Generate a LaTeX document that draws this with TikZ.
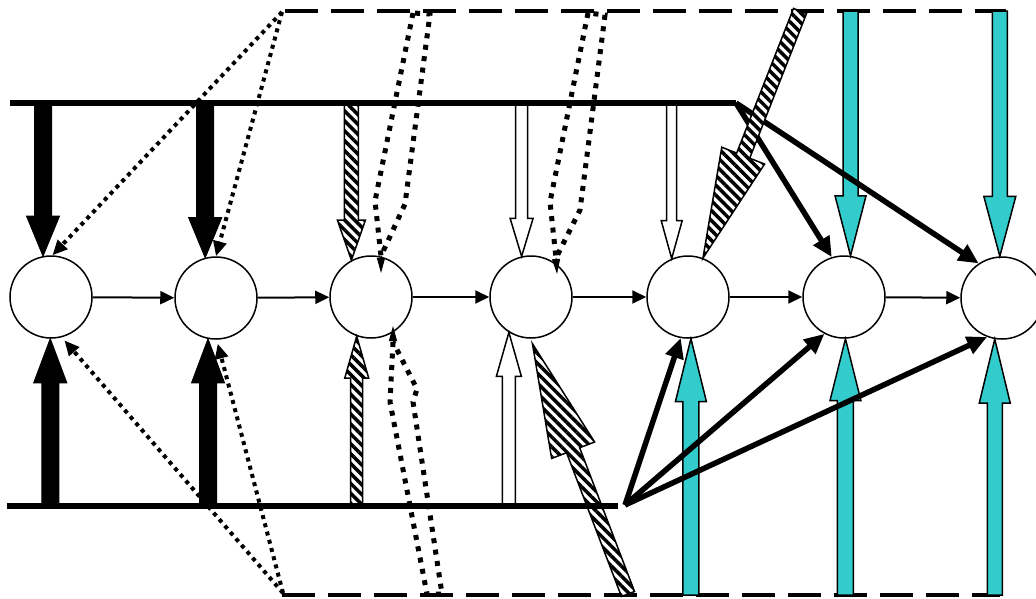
\documentclass[tikz,border=0pt]{standalone}
\usetikzlibrary{calc,arrows.meta,patterns.meta}

\definecolor{tealfill}{RGB}{51,204,204}

% Block arrow: [style]{start}{tip}{half shaft width}{half head width}{head length}
\newcommand{\fatarrow}[6][]{%
  \coordinate (faS) at (#2);
  \coordinate (faT) at (#3);
  \coordinate (faH) at ($(faT)!#6!(faS)$);
  \path[#1] ($(faS)!#4!90:(faT)$) -- ($(faH)!#4!90:(faT)$) -- ($(faH)!#5!90:(faT)$)
    -- (faT) -- ($(faH)!#5!-90:(faT)$) -- ($(faH)!#4!-90:(faT)$) -- ($(faS)!#4!-90:(faT)$) -- cycle;
}

\tikzset{
  state/.style={circle, draw, line width=1.5pt, minimum size=82pt, inner sep=0pt},
  flow/.style={line width=2pt, -{Triangle[length=14pt,width=13pt]}},
  fan/.style={line width=5.5pt, -{Triangle[length=20pt,width=18pt]}},
  rail/.style={line width=5.5pt},
  frame/.style={line width=4pt, dash pattern=on 33pt off 13pt},
  dotline/.style={line width=4pt, dash pattern=on 4pt off 4.5pt, -{Triangle[length=15pt,width=13pt]}},
  tube/.style={line width=5pt, dash pattern=on 5pt off 6.5pt, line join=miter},
  tubetip/.style={line width=1pt, -{Triangle[length=15pt,width=8pt]}},
  solidarrow/.style={fill=black, draw=black, line width=1pt},
  openarrow/.style={fill=white, draw=black, line width=1.5pt},
  hatcharrow/.style={preaction={fill=white}, pattern={Lines[angle=-45,distance=7pt,line width=3.5pt]}, draw=black, line width=1.5pt},
  cyanarrow/.style={fill=tealfill, draw=black, line width=1.5pt},
}

\begin{document}
\begin{tikzpicture}[x=1pt, y=-1pt]
\useasboundingbox (0,0) rectangle (1036,598);

% states
\node[state] (c1) at (51,297) {};
\node[state] (c2) at (216,298) {};
\node[state] (c3) at (371,297) {};
\node[state] (c4) at (531,297) {};
\node[state] (c5) at (688,297) {};
\node[state] (c6) at (844,297) {};
\node[state] (c7) at (1002,298) {};

% rail and frame points
\coordinate (TL) at (10,103);
\coordinate (TR) at (736,103);
\coordinate (BL) at (7,506);
\coordinate (BR) at (618,506);
\coordinate (F2) at (625,505);
\coordinate (DTL) at (285,11);
\coordinate (DTR) at (1006,11);
\coordinate (DBL) at (282,595);
\coordinate (DBR) at (1000,595);
\coordinate (KT) at (282,12);
\coordinate (KB) at (283,593);

% dashed frame
\draw[frame] (DTL) -- (DTR);
\draw[frame] (DBL) -- (DBR);

% chain
\draw[flow] (c1) -- (c2);
\draw[flow] (c2) -- (c3);
\draw[flow] (c3) -- (c4);
\draw[flow] (c4) -- (c5);
\draw[flow] (c5) -- (c6);
\draw[flow] (c6) -- (c7);

% dotted links from the frame corners
\draw[dotline] (KT) -- (c1.88);
\draw[dotline] (KT) -- (c2.90);
\draw[dotline, shorten >=4pt] (KB) -- (c1.-75);
\draw[dotline, shorten >=4pt] (KB) -- (c2.-89);

% dotted hollow arrows
\draw[tube] (413,13) -- (375,201) -- (381,256) -- (405,204) -- (430,14) -- cycle;
\coordinate (t1a) at (381,256); \coordinate (t1b) at (381,273);
\draw[tubetip] (t1a) -- (t1b);
\draw[tube] (588,13) -- (550,202) -- (556,258) -- (580,210) -- (605,15) -- cycle;
\coordinate (t2a) at (556,258); \coordinate (t2b) at (557,274);
\draw[tubetip] (t2a) -- (t2b);
\draw[tube] (393,342) -- (390,402) -- (427,594) -- (442,594) -- (413,402) -- (417,389) -- cycle;
\coordinate (t3a) at (393,342); \coordinate (t3b) at (393,326);
\draw[tubetip] (t3a) -- (t3b);

% solid black block arrows
\fatarrow[solidarrow]{c1.101 |- TL}{c1.101}{8.5pt}{16.5pt}{40pt}
\fatarrow[solidarrow]{c2.105 |- TL}{c2.105}{8.5pt}{16.5pt}{40pt}
\fatarrow[solidarrow]{c1.-91 |- BL}{c1.-91}{8.5pt}{16.5pt}{44pt}
\fatarrow[solidarrow]{c2.-101 |- BL}{c2.-101}{8.5pt}{16.5pt}{44pt}

% open block arrows
\fatarrow[openarrow]{c4.103 |- TL}{c4.103}{6pt}{11.5pt}{38pt}
\fatarrow[openarrow]{c5.113 |- TL}{c5.113}{5pt}{10.5pt}{38pt}
\fatarrow[openarrow]{c4.-122 |- BL}{c4.-122}{6.5pt}{12.5pt}{44pt}

% cyan block arrows
\fatarrow[cyanarrow]{c6.81 |- DTL}{c6.81}{7.5pt}{15.5pt}{60pt}
\fatarrow[cyanarrow]{c7.93 |- DTL}{c7.93}{7.5pt}{16pt}{60pt}
\fatarrow[cyanarrow]{c5.-86 |- DBL}{c5.-86}{8pt}{15.5pt}{63pt}
\fatarrow[cyanarrow]{c6.-88 |- DBL}{c6.-88}{8pt}{15.5pt}{62pt}
\fatarrow[cyanarrow]{c7.-100 |- DBL}{c7.-100}{7.5pt}{15.5pt}{64pt}

% fan-out links
\draw[fan] (TR) -- (c6.107);
\draw[fan] (TR) -- (c7.124);
\draw[fan] (F2) -- (c5.-100);
\draw[fan] (F2) -- (c6.-118);
\draw[fan] (F2) -- (c7.-111);

% hatched block arrows
\fatarrow[hatcharrow]{c3.118 |- TL}{c3.118}{7pt}{14pt}{40pt}
\fatarrow[hatcharrow]{c3.-110 |- BL}{c3.-110}{6pt}{12pt}{42pt}
\coordinate (h3s) at (800,11);
\fatarrow[hatcharrow]{h3s}{c5.69}{7pt}{23pt}{110pt}
\coordinate (h4s) at (628,594);
\coordinate (h4t) at ($(c4.-88)+(0,5)$);
\fatarrow[hatcharrow]{h4s}{h4t}{7pt}{23pt}{114pt}

% rails
\draw[rail] (TL) -- (TR);
\draw[rail] (BL) -- (BR);
\end{tikzpicture}
\end{document}
